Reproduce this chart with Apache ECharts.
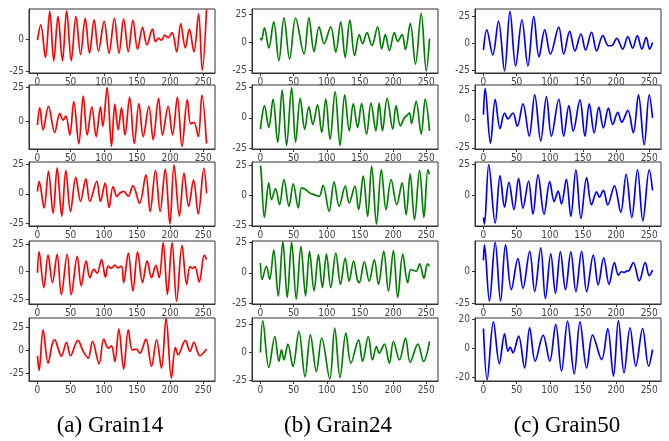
<!DOCTYPE html>
<html>
<head>
<meta charset="utf-8">
<script src="https://cdn.jsdelivr.net/npm/echarts@6/dist/echarts.min.js"></script>
<style>html,body{margin:0;padding:0;background:#fff}#c{width:669px;height:441px}</style>
</head>
<body>
<div id="c"></div>
<script>
// ---------- data ----------
const captions = ['(a) Grain14', '(b) Grain24', '(c) Grain50'];
const xTicks = [0, 50, 100, 150, 200, 250];
const yTicks = [-25, 0, 25];
const yTicksSmall = [-20, 0, 20];

const g14_1 = [[0,-1],[5,11],[12,-14.5],[18.6,21.6],[24.6,-17],[31,17.6],[37.7,-17],[44,22],[51,-17],[58,17.6],[65,-12],[72,16],[78.5,-11],[85.5,15],[92,-9.5],[100.6,13.7],[108,-11],[116,16],[123,-11],[130,15.5],[137,-10],[144,14.5],[151,-8],[158.5,9],[165,-4.7],[173.5,7.6],[178,-2],[183,0.5],[187,-1],[192,3],[197,1],[203,5],[210,-10],[216,12],[223,-7],[229,7.6],[236,-10],[243,19.7],[248.5,-24.5],[255,23]];
const g14_2 = [[0,-3],[3.5,10],[8.5,-6.7],[16.6,11],[26,-8.7],[33.7,5.7],[38.7,0.7],[42.8,3.7],[48.8,-10.5],[54.8,14.5],[62.4,-17],[69,18.7],[75,-10.5],[82,10.7],[88.5,-11.7],[95,10.7],[98.6,-4],[105,25],[111.7,-19],[116.7,12.7],[121.7,-6.7],[126.8,10],[132,-10.5],[139,18],[146,-17],[153,13],[159.5,-11.7],[168,11],[174.5,-14],[182.6,17],[188.6,-10.5],[197,11],[203.7,-10.5],[211,17.7],[218,-19],[226,16],[231,-2],[236,-1],[242.5,-11.7],[248,19.5],[255,-17]];
const g14_3 = [[0,2],[2.5,10.5],[10,-12],[16.6,19],[23.6,-16.4],[29.7,22],[36.7,-19],[42.8,20],[49.8,-15],[57.8,14],[65,-6.5],[73,12.7],[79,-6.5],[89.5,10.5],[95,-6.5],[102,9],[108,-11.6],[114,6.2],[120,-2.3],[124,0.5],[130,2],[137,-2],[144,7],[154,-8],[163.5,16],[170,-15],[178,20],[185,-15],[192.7,21],[199.7,-25.7],[206,24.6],[214,-19],[221,17.5],[228,-10.7],[235.4,11.9],[242.5,-17],[251,21.7],[255,0.5]];
const g14_4 = [[0,-1],[2.5,18],[9.6,-14.6],[16,15],[22.6,-10],[29.7,15.9],[36,-21],[44.8,15.9],[51,-21],[60,14],[66,-13],[73.4,9.8],[79,-5.5],[85,2],[90,-1.5],[96.6,11],[102.6,-5],[106.6,5],[111,3],[116.7,6],[121,3.5],[126.8,5],[130,-10],[137,17],[144,-17.7],[151,18],[158.5,-10],[165.5,9.8],[172,-5.5],[178.6,5.8],[183.6,-5.5],[189.6,26.5],[196,-20.7],[203,26.5],[209.8,-27],[218,24],[225,-11.6],[230,4.5],[234,3],[237.4,4.5],[244,-9.5],[251.5,15],[255,11]];
const g14_5 = [[0,-5.8],[2.5,-22],[8.5,22.6],[16,-13.9],[22.6,8],[26,11.7],[31,2.5],[36,-6.5],[43.8,8.8],[49.8,-5.8],[61,11],[69,-1],[76.5,-8.4],[83,9.9],[93,-14.6],[100,12.4],[107,2.5],[111.7,5],[116.7,-12],[122.7,23.4],[130,-20.4],[137,22.6],[143,0.7],[149,1.5],[154.4,-3],[163.5,12.4],[172,-17.5],[179.6,11.7],[187,-19.3],[194,35],[202,-30.3],[208,3.5],[212,-4.7],[223,11],[230,-1],[236,8.8],[245,-5.8],[255,1.5]];

const g24_1 = [[0,4],[1.5,2],[6,13],[12.6,-5],[20,18.5],[27.8,-16.4],[35.4,22],[44,-14.8],[53,21.5],[65.7,-10.3],[73,22],[80.8,-8.2],[88.4,14],[96,-1.2],[106,14],[113.6,-8.8],[121,18.5],[127.8,-13.3],[134.8,20],[142,-11.8],[149,7],[154,-1.2],[160.6,8.8],[168,-2.7],[176.8,14],[182.8,-5.8],[188.4,7],[194.4,-7.3],[202,8.8],[207,1],[213.6,7],[218.7,-6.4],[226,17],[233.8,-19.4],[242.4,26],[250,-25.5],[255,3.3]];
const g24_2 = [[0,-9.4],[1,-4],[6,10],[12.6,-8],[19,15.3],[26,-20],[32.8,22.8],[39.4,-22.8],[47,24.7],[53,-20],[60,16],[66.7,-9.4],[73,8.9],[79,-5.4],[86,10.7],[92.4,-12],[98.5,15.3],[105,-17.5],[112.6,21.5],[120,-22.8],[127,18.8],[134,-10.7],[140,11.6],[146.5,-8],[152.5,11.6],[160,-13.4],[166.7,12],[174,-10.7],[179,12],[184,-10.7],[191,16],[199.5,-9.4],[204.5,10],[211,-6.7],[217,0],[221,2],[224.7,4],[227.8,-4.6],[234.8,13.4],[242.4,-13.4],[248.5,15.3],[255,-10.7]];
const g24_3 = [[0,25],[1,20],[6,-18.5],[12.6,10.4],[16.7,-3.6],[22.7,5.6],[28.8,-7.9],[35.4,13.2],[43,-9.3],[49.5,9.5],[57,-10.7],[62,6.2],[68,4.8],[74,2],[80.8,0.5],[88.4,-1],[94.4,8.4],[103.5,-13.5],[111,11.2],[118.7,-9.3],[127.8,7.6],[133.8,-6.5],[142.4,7.6],[148,-12],[155,16],[161.6,-17.7],[167.7,24.4],[175,-24.2],[182.3,21.6],[189.4,-12],[197,13.2],[205.6,-7.9],[213.6,10.4],[219.7,-16.3],[225.8,18],[232.3,-20.5],[240,20.8],[246.5,-18.5],[252.5,21.6],[255,17.4]];
const g24_4 = [[0,8],[2.5,-5.3],[9,5.3],[14,-5.3],[20,18.7],[26.8,-18.7],[33.8,25.4],[40.4,-20],[47,24.9],[54,-21.4],[61,21.4],[68,-18.7],[74,17.4],[80.8,-14.7],[87.4,14.7],[93.4,-12],[99.5,15.2],[106,-12],[113.6,16],[120.7,-9.4],[127.8,12],[133.8,-6.7],[140.4,9.4],[146,-5.3],[149,-8],[156.6,8.8],[164,-6.7],[171.7,10.7],[178,-9.4],[185.9,17.4],[193,-14.7],[200.5,18],[207,-20],[214.6,15.2],[222,-8],[227,2.7],[234.8,1.3],[240,7.2],[246.5,-4.5],[252,7.2],[255,5.3]];
const g24_5 = [[0,0],[3.5,28.4],[12.6,-13.5],[21.7,14.4],[27.8,-8],[31.8,2.4],[35.4,-6.6],[41.4,7.5],[49,-12.6],[58,18.9],[67.2,-21.6],[75.3,15.9],[84.3,-17],[92.4,12.9],[104.5,-23.6],[112,21.9],[120,-22.5],[128.8,17.4],[136.4,-9.6],[148,11.4],[154,-8],[162.6,14.4],[169,-6.6],[175,5.4],[179,-0.6],[186.9,7.5],[194.4,-9.6],[200.5,9.9],[209.6,-6.6],[218.7,12.9],[225.8,-8.7],[237.4,7.5],[246,-8],[255,9.9]];

const g50_1 = [[0,-6.2],[5,12.5],[14,-10.6],[22.7,20.6],[31.8,-25.6],[40,29.7],[48.5,-21],[58,21.9],[67,-21],[75.8,25],[83.8,-12.5],[92.4,12.5],[101,-10],[113.6,15],[121,-10],[130,11.2],[138,-6.9],[147,8.7],[154,-6.2],[163,10.3],[170.7,-6.9],[180,7.2],[188.4,-2.2],[193.4,-2.2],[201,4.7],[210,-5.3],[217.7,6.2],[225,-4.4],[232,7.2],[238.9,-5.3],[245.5,5.6],[250.5,-5.3],[255,0.9]];
const g50_2 = [[0,3.7],[2.5,26.4],[10.6,-21],[17.7,17],[25,-8.5],[31.8,5.1],[36.9,0],[44.4,5.1],[51,-6.3],[59.6,13],[69,-14.8],[77.3,20.7],[86.4,-19],[95,19.3],[102.5,-14.8],[113.6,17],[121,-14.8],[128.8,11.4],[135.4,-10.5],[145.5,16.5],[153,-14.8],[159.6,13],[167,-12],[174,10.2],[180.8,-7.7],[188.4,9.4],[195,-4.8],[202.5,5.7],[208.6,-2.8],[217.7,7.4],[226,-12],[233.8,20.7],[242.4,-22.4],[250,20.7],[255,0.9]];
const g50_3 = [[0,-17.7],[1.5,-23],[8,24.5],[17.7,-22.3],[25,15.8],[31.8,-9.5],[38.4,10.3],[46,-11.4],[53,13.6],[59.6,-10.3],[68,11.4],[74.7,-15],[82.3,16.3],[91.4,-15],[100,10.9],[106.6,-4.9],[112.6,3.3],[117.7,-6.8],[125,12.8],[131.8,-16.8],[139.4,20.4],[147,-18.5],[155.6,14.1],[163,-7.6],[170.7,2.7],[174.7,-1.4],[180.8,4],[187.4,-7.6],[197.5,7.6],[207,-13.6],[215.2,16.8],[223.7,-17.7],[232.3,20.4],[240.4,-20.4],[250,20.4],[255,4]];
const g50_4 = [[0,9],[1.5,21],[9,-23],[17.7,23],[25.8,-23],[33.3,21],[42,-14],[52,10.3],[59.6,-13],[69.7,16],[77.3,-15.5],[86.4,18.6],[93.4,-21],[101.5,14],[108.6,-16.8],[116,15.5],[123.7,-14],[131.8,15.5],[139.4,-15.5],[148,16],[155.6,-15.5],[165.7,12.9],[173,-10.3],[181.3,10.8],[189.4,-9.8],[197.5,7.2],[203.5,-2.6],[208,0],[212,-0.5],[216,0.5],[219.7,1],[226,7.2],[235,-7.2],[244,7.2],[250,-3],[255,1.3]];
const g50_5 = [[0,13.7],[5.6,-21.3],[15,18.3],[24,-10.5],[31.8,10],[36.9,-1.8],[40.4,0.9],[44.4,-3],[53,8.5],[62,-13.3],[69.7,14.2],[78,-8.7],[90,9.2],[100,-8.7],[109,16.5],[117.7,-15.6],[126.8,18.8],[136.9,-17.4],[145.5,18.3],[155.6,-13.3],[164.6,9.2],[178.3,-7.6],[187.4,13.7],[196,-19],[203.5,19.2],[212,-16.7],[221,14.2],[229.8,-12.1],[240,13.7],[249,-12.1],[255,-0.7]];

const columns = [
  [g14_1, g14_2, g14_3, g14_4, g14_5],
  [g24_1, g24_2, g24_3, g24_4, g24_5],
  [g50_1, g50_2, g50_3, g50_4, g50_5]
];
// y-axis limits [min, max] per column, per row
const yLimits = [
  [[-26.6,23.4],[-21,27],[-27.3,27],[-29.6,28],[-33.4,35.5]],
  [[-27.4,29.9],[-25.6,26.9],[-25.8,27.9],[-25.3,25.8],[-25.6,31]],
  [[-27.5,31.9],[-26,29.3],[-24.5,26.6],[-25.2,24],[-22.3,20.9]]
];

// ---------- layout / style ----------
const colors = ['#ff0000', '#008000', '#0000ff'];
const gridLeft = [29, 252, 475];
const gridWidth = 186;
const rowTop = [9, 85, 162, 241, 318];
const rowHeight = [64, 64, 64, 63, 63];
const captionX = [110, 338, 567];

const grids = [], xAxes = [], yAxes = [], series = [];
const axisFont = { fontFamily: '"DejaVu Sans Condensed", "Liberation Sans Narrow", "DejaVu Sans", sans-serif', fontSize: 10, color: '#444' };
let idx = 0;
for (let c = 0; c < 3; c++) {
  for (let r = 0; r < 5; r++) {
    const [ymin, ymax] = yLimits[c][r];
    const ticks = (c === 2 && r === 4 ? yTicksSmall : yTicks).filter(v => v >= ymin && v <= ymax);
    grids.push({ left: gridLeft[c], top: rowTop[r], width: gridWidth, height: rowHeight[r],
      show: true, borderColor: '#333', borderWidth: 1, backgroundColor: 'transparent' });
    xAxes.push({ type: 'value', gridIndex: idx, min: -12.75, max: 267.75,
      axisLine: { show: true, onZero: false, lineStyle: { color: '#333', width: 1 } },
      axisTick: { show: true, inside: false, length: 3, customValues: xTicks, lineStyle: { color: '#333' } },
      axisLabel: Object.assign({ show: true, margin: 4, customValues: xTicks }, axisFont),
      splitLine: { show: false } });
    yAxes.push({ type: 'value', gridIndex: idx, min: ymin, max: ymax,
      axisLine: { show: true, onZero: false, lineStyle: { color: '#333', width: 1 } },
      axisTick: { show: true, inside: false, length: 3, customValues: ticks, lineStyle: { color: '#333' } },
      axisLabel: Object.assign({ show: true, margin: 5, customValues: ticks }, axisFont),
      splitLine: { show: false } });
    series.push({ type: 'line', xAxisIndex: idx, yAxisIndex: idx, data: columns[c][r],
      showSymbol: false, smooth: 0.35, clip: true,
      lineStyle: { color: colors[c], width: 1.7 }, itemStyle: { color: colors[c] } });
    idx++;
  }
}

const graphics = captions.map((t, i) => ({
  type: 'text', x: captionX[i], y: 426,
  style: { text: t, fill: '#000', font: '23px "Liberation Serif", "Times New Roman", serif',
    textAlign: 'center', textVerticalAlign: 'middle' }
}));

const chart = echarts.init(document.getElementById('c'), null, { renderer: 'canvas' });
chart.setOption({
  animation: false,
  backgroundColor: '#fff',
  grid: grids, xAxis: xAxes, yAxis: yAxes, series: series,
  graphic: graphics
});
</script>
</body>
</html>
